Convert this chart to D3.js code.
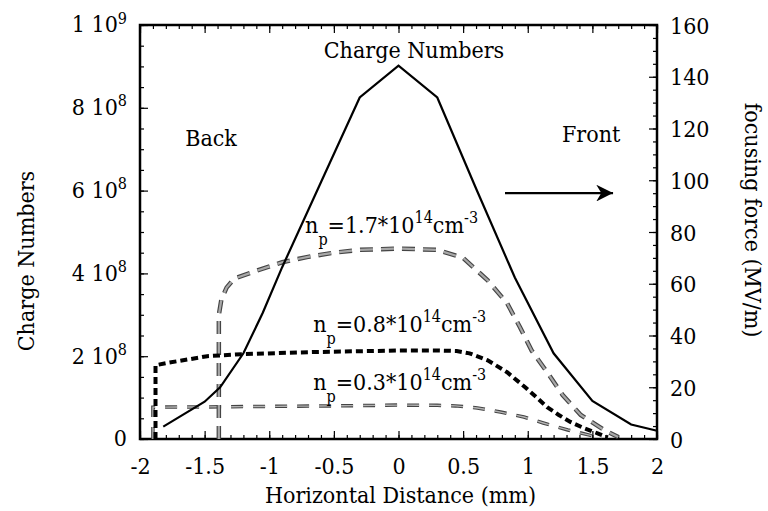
<!DOCTYPE html>
<html>
<head>
<meta charset="utf-8">
<script src="https://cdn.jsdelivr.net/npm/d3@7"></script>
<style>
  body { margin: 0; background: #fff; }
</style>
</head>
<body>
<svg></svg>
<script>
// charge numbers (left axis)
const xCharge = [-1.82, -1.5, -1.38, -1.2, -1.05, -0.9, -0.6, -0.3, 0, 0.3, 0.6, 0.9, 1.2, 1.5, 1.8, 2.0];
const charge  = [0.3e8, 0.9e8, 1.25e8, 2.07e8, 3.05e8, 4.15e8, 6.2e8, 8.25e8, 9.02e8, 8.25e8, 6.05e8, 3.9e8, 2.07e8, 0.92e8, 0.35e8, 0.2e8];

// focusing force (right axis, MV/m) for three plasma densities
const xF17 = [-1.39, -1.39, -1.37, -1.33, -1.27, -1.1, -0.9, -0.7, -0.5, -0.3, 0, 0.3, 0.5, 0.69, 0.84, 0.94, 1.03, 1.15, 1.27, 1.41, 1.59, 1.7];
const f17  = [0, 48, 54, 58.5, 62, 65, 68.3, 70.4, 72, 73.1, 73.6, 73.1, 70, 61.3, 52.5, 43.2, 34.2, 25.8, 17, 9.3, 3.5, 0.8];
const xF08 = [-1.88, -1.88, -1.8, -1.48, -1.2, -0.66, 0, 0.3, 0.45, 0.55, 0.69, 0.84, 0.98, 1.07, 1.15, 1.24, 1.33, 1.43, 1.54, 1.62];
const f08  = [0, 28.5, 29.3, 32, 32.8, 33.6, 34.2, 34.2, 34, 33.1, 30.4, 25.8, 20, 16, 12.3, 9.3, 6.6, 4.3, 2.2, 0.6];
const xF03 = [-1.9, -1.9, -1.5, -1, -0.5, 0, 0.3, 0.44, 0.61, 0.79, 0.97, 1.12, 1.31, 1.47, 1.57];
const f03  = [0, 12.3, 12.4, 12.6, 12.8, 13.1, 13, 12.8, 12, 10.4, 8.5, 6.2, 3.5, 1.6, 0.4];

const xTicks = [-2, -1.5, -1, -0.5, 0, 0.5, 1, 1.5, 2];
const xTickLabels = ["-2", "-1.5", "-1", "-0.5", "0", "0.5", "1", "1.5", "2"];
const leftTicks = [0, 2e8, 4e8, 6e8, 8e8, 1e9];
const leftTickLabels = [["0", ""], ["2 10", "8"], ["4 10", "8"], ["6 10", "8"], ["8 10", "8"], ["1 10", "9"]];
const rightTicks = [0, 20, 40, 60, 80, 100, 120, 140, 160];

const FONT = "'DejaVu Serif Condensed', 'DejaVu Serif', serif";
const fs = 23, fsSmall = 16;

const svgWidth = 768, svgHeight = 511;
const margin = { top: 25, right: 111, bottom: 72, left: 140 };
const width = svgWidth - margin.left - margin.right;
const height = svgHeight - margin.top - margin.bottom;

const svg = d3.select("svg")
    .attr("width", svgWidth)
    .attr("height", svgHeight)
    .style("font-family", FONT)
    .style("font-stretch", "condensed");

const g = svg.append("g")
    .attr("transform", "translate(" + margin.left + "," + margin.top + ")");

const x = d3.scaleLinear().domain([-2, 2]).range([0, width]);
const yL = d3.scaleLinear().domain([0, 1e9]).range([height, 0]);
const yR = d3.scaleLinear().domain([0, 160]).range([height, 0]);

// minor ticks
g.append("g").attr("transform", "translate(0," + height + ")")
    .call(d3.axisBottom(x).tickValues(d3.range(-2, 2.001, 0.1)).tickSize(-4).tickFormat(""));
g.append("g")
    .call(d3.axisTop(x).tickValues(d3.range(-2, 2.001, 0.1)).tickSize(-4).tickFormat(""));
g.append("g")
    .call(d3.axisLeft(yL).tickValues(d3.range(0, 1e9 + 1, 0.5e8)).tickSize(-4).tickFormat(""));
g.append("g").attr("transform", "translate(" + width + ",0)")
    .call(d3.axisRight(yR).tickValues(d3.range(0, 161, 5)).tickSize(-4).tickFormat(""));

// major ticks
const xAxis = g.append("g").attr("transform", "translate(0," + height + ")")
    .call(d3.axisBottom(x).tickValues(xTicks).tickSize(-8).tickPadding(19)
      .tickFormat(function(d, i) { return xTickLabels[i]; }));
g.append("g")
    .call(d3.axisTop(x).tickValues(xTicks).tickSize(-8).tickFormat(""));

const leftAxis = g.append("g")
    .call(d3.axisLeft(yL).tickValues(leftTicks).tickSize(-8).tickPadding(13).tickFormat(""));
leftAxis.selectAll(".tick text").each(function(d, i) {
  const t = d3.select(this).attr("dy", "0.3em");
  t.append("tspan").text(leftTickLabels[i][0]);
  if (leftTickLabels[i][1]) {
    t.append("tspan").attr("dy", "-0.55em").attr("font-size", fsSmall).text(leftTickLabels[i][1]);
  }
});

const rightAxis = g.append("g").attr("transform", "translate(" + width + ",0)")
    .call(d3.axisRight(yR).tickValues(rightTicks).tickSize(-8).tickPadding(13));

g.selectAll("g").attr("font-family", null);
g.selectAll(".tick line").attr("stroke", "#000").attr("stroke-width", 1.2);
g.selectAll(".tick text").attr("font-size", fs).attr("fill", "#000");
xAxis.selectAll(".tick text").attr("dy", "0.71em");
rightAxis.selectAll(".tick text").attr("dy", "0.35em");
g.selectAll(".domain").attr("stroke", "none");

// frame
g.append("rect")
    .attr("x", x(-2)).attr("y", yL(1e9))
    .attr("width", x(2) - x(-2)).attr("height", yL(0) - yL(1e9))
    .attr("fill", "none").attr("stroke", "#000").attr("stroke-width", 2.5);

// lines
const lineL = d3.line()
    .x(function(d) { return x(d[0]); })
    .y(function(d) { return yL(d[1]); });
const lineR = d3.line()
    .x(function(d) { return x(d[0]); })
    .y(function(d) { return yR(d[1]); });

g.append("path")
    .datum(d3.zip(xF03, f03))
    .attr("d", lineR).attr("fill", "none")
    .attr("stroke", "#444").attr("stroke-width", 3.5).attr("stroke-dasharray", "12,10");
g.append("path")
    .datum(d3.zip(xF03, f03))
    .attr("d", lineR).attr("fill", "none")
    .attr("stroke", "#b4b4b4").attr("stroke-width", 1.4).attr("stroke-dasharray", "12,10");

g.append("path")
    .datum(d3.zip(xF17, f17))
    .attr("d", lineR).attr("fill", "none")
    .attr("stroke", "#444").attr("stroke-width", 4.5).attr("stroke-dasharray", "13,8");
g.append("path")
    .datum(d3.zip(xF17, f17))
    .attr("d", lineR).attr("fill", "none")
    .attr("stroke", "#a8a8a8").attr("stroke-width", 2.2).attr("stroke-dasharray", "13,8");

g.append("path")
    .datum(d3.zip(xF08, f08))
    .attr("d", lineR).attr("fill", "none")
    .attr("stroke", "#000").attr("stroke-width", 4).attr("stroke-dasharray", "7,4");

g.append("path")
    .datum(d3.zip(xCharge, charge))
    .attr("d", lineL).attr("fill", "none")
    .attr("stroke", "#000").attr("stroke-width", 2.2);

// annotations
g.append("text").attr("x", x(0.12)).attr("y", yL(0.92e9))
    .attr("text-anchor", "middle").attr("font-size", fs).text("Charge Numbers");
g.append("text").attr("x", x(-1.65)).attr("y", yL(0.708e9))
    .attr("font-size", fs).text("Back");
g.append("text").attr("x", x(1.265)).attr("y", yL(0.717e9))
    .attr("font-size", fs).text("Front");

svg.append("defs").append("marker")
    .attr("id", "arrow").attr("viewBox", "0 0 10 10")
    .attr("refX", 10).attr("refY", 5)
    .attr("markerWidth", 9).attr("markerHeight", 7)
    .attr("markerUnits", "strokeWidth").attr("orient", "auto")
    .append("path").attr("d", "M0,0 L10,5 L0,10 L3,5 Z").attr("fill", "#000");
g.append("line")
    .attr("x1", x(0.824)).attr("x2", x(1.66))
    .attr("y1", yL(0.594e9)).attr("y2", yL(0.594e9))
    .attr("stroke", "#000").attr("stroke-width", 2.4)
    .attr("marker-end", "url(#arrow)");

function densityLabel(xv, yv, value) {
  const t = g.append("text").attr("x", x(xv)).attr("y", yL(yv)).attr("font-size", fs);
  t.append("tspan").text("n");
  t.append("tspan").attr("dy", 12).attr("font-size", fsSmall).text("p");
  t.append("tspan").attr("dy", -12).text("=" + value + "*10");
  t.append("tspan").attr("dy", -10).attr("font-size", fsSmall).text("14");
  t.append("tspan").attr("dy", 10).text("cm");
  t.append("tspan").attr("dy", -10).attr("font-size", fsSmall).text("-3");
}
densityLabel(-0.723, 0.4976e9, "1.7");
densityLabel(-0.66, 0.258e9, "0.8");
densityLabel(-0.66, 0.118e9, "0.3");

// axis titles
svg.append("text")
    .attr("transform", "translate(" + (margin.left + width / 2 + 2) + "," + 503 + ")")
    .attr("text-anchor", "middle").attr("font-size", fs)
    .text("Horizontal Distance (mm)");
svg.append("text")
    .attr("transform", "translate(34,261) rotate(-90)")
    .attr("text-anchor", "middle").attr("font-size", fs)
    .text("Charge Numbers");
svg.append("text")
    .attr("transform", "translate(745,220) rotate(90)")
    .attr("text-anchor", "middle").attr("font-size", fs)
    .text("focusing force (MV/m)");
</script>
</body>
</html>
